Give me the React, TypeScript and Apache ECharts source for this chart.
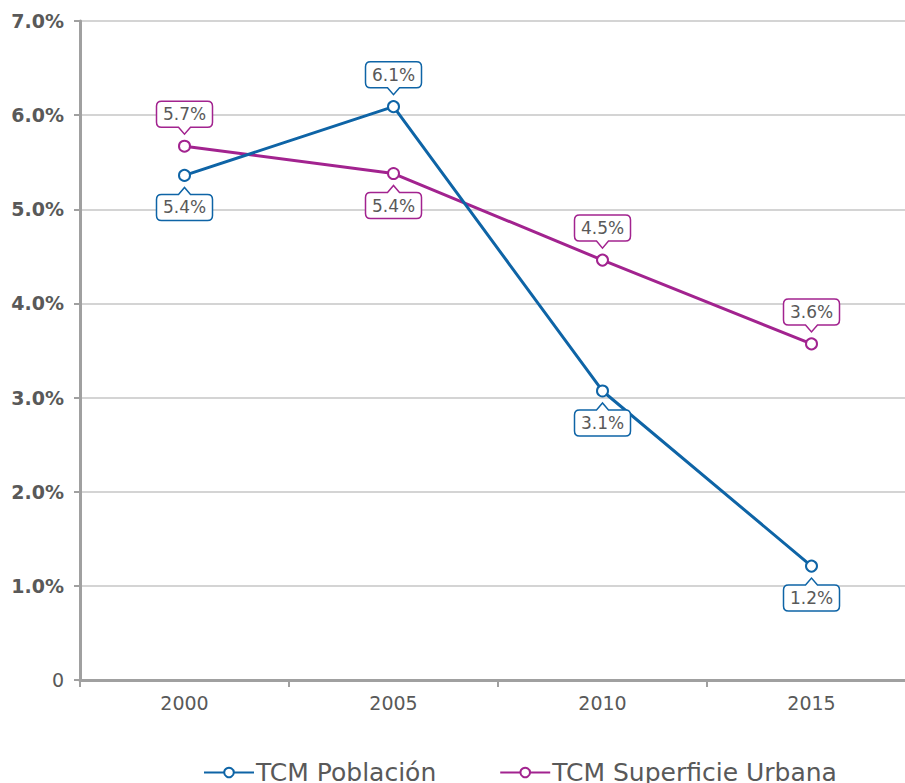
import React, { useEffect, useRef } from "react";
import * as echarts from "echarts";

const years = ["2000", "2005", "2010", "2015"];
const poblacion = [5.36, 6.09, 3.07, 1.21];
const superficie = [5.67, 5.38, 4.46, 3.57];
const poblacionLabelPos = ["bottom", "top", "bottom", "bottom"];
const superficieLabelPos = ["top", "bottom", "top", "top"];
const yTicks = [0, 1, 2, 3, 4, 5, 6, 7];

const BLUE = "#0E64A6";
const MAGENTA = "#A2238F";
const TEXT = "#595959";
const FONT = "'DejaVu Sans', sans-serif";

function calloutPath(cx: number, py: number, above: boolean): string {
  const W = 56, H = 26, gapTip = 12, ph = 7, hw = 6, r = 5;
  const l = cx - W / 2, rt = cx + W / 2;
  if (above) {
    const tip = py - gapTip;
    const b = tip - ph;
    const t = b - H;
    return `M${l + r} ${t} L${rt - r} ${t} Q${rt} ${t} ${rt} ${t + r} L${rt} ${b - r} Q${rt} ${b} ${rt - r} ${b} L${cx + hw} ${b} L${cx} ${tip} L${cx - hw} ${b} L${l + r} ${b} Q${l} ${b} ${l} ${b - r} L${l} ${t + r} Q${l} ${t} ${l + r} ${t} Z`;
  }
  const tip = py + gapTip;
  const t = tip + ph;
  const b = t + H;
  return `M${l + r} ${t} L${cx - hw} ${t} L${cx} ${tip} L${cx + hw} ${t} L${rt - r} ${t} Q${rt} ${t} ${rt} ${t + r} L${rt} ${b - r} Q${rt} ${b} ${rt - r} ${b} L${l + r} ${b} Q${l} ${b} ${l} ${b - r} L${l} ${t + r} Q${l} ${t} ${l + r} ${t} Z`;
}

function calloutSeries(name: string, values: number[], pos: string[], color: string) {
  return {
    type: "custom",
    name: name + "-labels",
    coordinateSystem: "cartesian2d",
    silent: true,
    z: 10,
    clip: false,
    data: values.map((v, i) => [i, v, pos[i] === "top" ? 1 : 0]),
    encode: { x: 0, y: 1 },
    renderItem: (params: any, api: any) => {
      const pt = api.coord([api.value(0), api.value(1)]);
      const above = api.value(2) === 1;
      const cx = pt[0], py = pt[1];
      const textY = above ? py - 12 - 7 - 13 : py + 12 + 7 + 13;
      return {
        type: "group",
        children: [
          {
            type: "path",
            shape: { pathData: calloutPath(cx, py, above) },
            style: { fill: "#ffffff", stroke: color, lineWidth: 1.5 },
          },
          {
            type: "text",
            x: cx,
            y: textY,
            style: {
              text: api.value(1).toFixed(1) + "%",
              fill: TEXT,
              font: `17px ${FONT}`,
              align: "center",
              verticalAlign: "middle",
            },
          },
        ],
      };
    },
  };
}

export default function App() {
  const ref = useRef<HTMLDivElement>(null);
  useEffect(() => {
    if (!ref.current) return;
    const chart = echarts.init(ref.current, undefined, { renderer: "svg" });
    chart.setOption({
      animation: false,
      backgroundColor: "#ffffff",
      textStyle: { fontFamily: FONT },
      grid: { left: 80, right: -11, top: 21, bottom: 103, containLabel: false, outerBoundsMode: "none" },
      legend: {
        data: ["TCM Población", "TCM Superficie Urbana"],
        left: 198,
        top: 755,
        itemWidth: 50,
        itemHeight: 12,
        itemGap: 63,
        textStyle: { color: TEXT, fontSize: 25, fontFamily: FONT, padding: [0, 0, 0, -3] },
      },
      xAxis: {
        type: "category",
        data: years,
        boundaryGap: true,
        axisLine: { show: true, lineStyle: { color: "#a0a0a0", width: 3 } },
        axisTick: { show: true, alignWithLabel: false, length: 7, lineStyle: { color: "#a0a0a0", width: 2 } },
        axisLabel: { color: TEXT, fontSize: 19, margin: 13, fontFamily: FONT },
        splitLine: { show: false },
      },
      yAxis: {
        type: "value",
        min: yTicks[0],
        max: yTicks[yTicks.length - 1],
        interval: 1,
        axisLine: { show: true, lineStyle: { color: "#a0a0a0", width: 3 } },
        axisTick: { show: true, length: 6, lineStyle: { color: "#a0a0a0", width: 2 } },
        axisLabel: {
          color: TEXT,
          fontSize: 19,
          margin: 16,
          fontFamily: FONT,
          formatter: (v: number) => (v === 0 ? "{z|0}" : "{b|" + v.toFixed(1) + "%}"),
          rich: {
            z: { color: TEXT, fontSize: 19, fontFamily: FONT },
            b: { color: TEXT, fontSize: 19, fontWeight: "bold", fontFamily: FONT },
          },
        },
        splitLine: { show: true, lineStyle: { color: "#d4d4d4", width: 2 } },
      },
      series: [
        {
          type: "line",
          name: "TCM Población",
          data: poblacion,
          color: BLUE,
          lineStyle: { color: BLUE, width: 3 },
          symbol: "circle",
          symbolSize: 11,
          itemStyle: { color: "#ffffff", borderColor: BLUE, borderWidth: 2 },
          z: 3,
        },
        {
          type: "line",
          name: "TCM Superficie Urbana",
          data: superficie,
          color: MAGENTA,
          lineStyle: { color: MAGENTA, width: 3 },
          symbol: "circle",
          symbolSize: 11,
          itemStyle: { color: "#ffffff", borderColor: MAGENTA, borderWidth: 2 },
          z: 2,
        },
        calloutSeries("TCM Población", poblacion, poblacionLabelPos, BLUE),
        calloutSeries("TCM Superficie Urbana", superficie, superficieLabelPos, MAGENTA),
      ],
    });
    return () => chart.dispose();
  }, []);
  return (
    <div
      ref={ref}
      style={{ position: "absolute", left: 0, top: 0, width: 905, height: 783 }}
    />
  );
}
